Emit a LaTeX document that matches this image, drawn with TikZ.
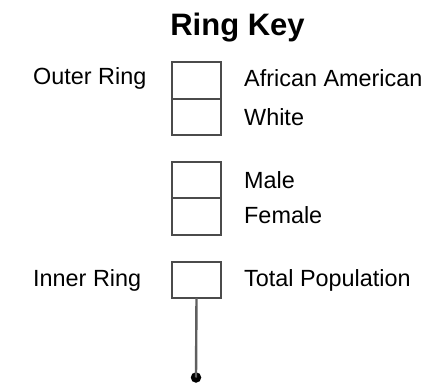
\documentclass[tikz,border=0pt]{standalone}
\usepackage{fontspec}
\setmainfont{Liberation Sans}
\begin{document}
\begin{tikzpicture}[x=1pt,y=-1pt,
  cell/.style={draw={rgb,255:red,75;green,75;blue,75}, line width=2.3pt, minimum width=49pt, minimum height=36.5pt, inner sep=0pt, outer sep=0pt},
  lbl/.style={font=\fontsize{23.4}{26}\selectfont, inner sep=0pt, anchor=west},
  stem/.style={draw={rgb,255:red,95;green,95;blue,95}, line width=2.4pt},
  dotnode/.style={circle, fill=black, minimum size=10.5pt, inner sep=0pt}]
\useasboundingbox (0,0) rectangle (432,388);
\node[font=\bfseries\fontsize{31}{34}\selectfont, inner sep=0pt, anchor=base] (title) at (237.5,35) {Ring Key};
\node[cell] (aa) at (196.5,80.5) {};
\node[cell] (wh) at (196.5,117) {};
\node[cell] (ma) at (196.5,180) {};
\node[cell] (fe) at (196.5,216.5) {};
\node[cell, minimum height=36pt] (tp) at (196.5,280) {};
\node[dotnode] (dot) at (196,377.5) {};
\draw[stem] (tp.south) -- (dot.center);
\node[lbl] (outer) at (33,78) {Outer Ring};
\node[lbl] (inner) at (33,280) {Inner Ring};
\node[lbl] (laa) at (244,78) {African American};
\node[lbl] (lwh) at (244,117) {White};
\node[lbl] (lma) at (244,180) {Male};
\node[lbl] (lfe) at (244,215) {Female};
\node[lbl] (ltp) at (244,280) {Total Population};
\end{tikzpicture}
\end{document}
